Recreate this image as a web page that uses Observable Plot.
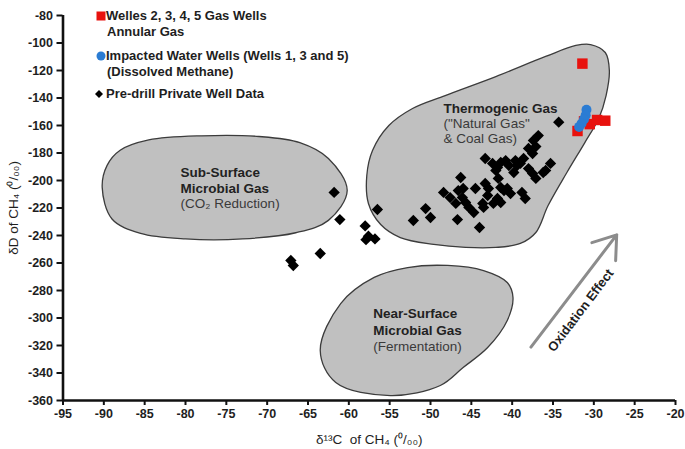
<!DOCTYPE html>
<html>
<head>
<meta charset="utf-8">
<script src="https://cdn.jsdelivr.net/npm/d3@7"></script>
<script src="https://cdn.jsdelivr.net/npm/@observablehq/plot@0.6"></script>
<style>
  html, body { margin: 0; padding: 0; background: #fff; }
  #wrap { position: relative; width: 685px; height: 449px; font-family: "Liberation Sans", Arial, sans-serif; }
  #wrap svg { font-family: "Liberation Sans", Arial, sans-serif; }
  [aria-label="x-axis tick label"] text, [aria-label="y-axis tick label"] text { font-weight: bold; }
  [aria-label="x-axis label"] text, [aria-label="y-axis label"] text { font-size: 13.5px; }
  .legend { position: absolute; left: 0; top: 0; font-size: 13px; font-weight: bold; color: #1e1e1e; }
  .legend div { position: absolute; white-space: nowrap; line-height: 16px; }
  .legend svg { position: absolute; }
</style>
</head>
<body>
<div id="wrap"></div>
<script>
// ---------- data (δ13C, δD) ----------
const preDrill = [
  [-61.8,-208.7],[-61.1,-228.4],[-58.0,-233.0],[-57.6,-240.5],[-56.8,-242.5],[-57.9,-243.0],[-56.5,-221.1],
  [-63.5,-253.1],[-67.1,-258.2],[-66.8,-261.8],
  [-52.1,-229.1],[-50.6,-220.4],[-50.0,-226.9],[-48.4,-208.7],[-47.6,-212.4],[-46.9,-216.7],[-46.7,-228.4],
  [-46.3,-197.8],[-46.6,-207.3],[-46.1,-212.4],[-45.7,-216.0],[-45.3,-219.6],[-44.7,-223.3],[-46.0,-205.8],
  [-44.5,-205.8],[-44.0,-234.2],[-43.3,-184.0],[-43.3,-202.2],[-42.9,-205.8],[-43.0,-210.9],[-43.6,-216.7],
  [-43.5,-219.6],[-42.4,-187.6],[-41.8,-190.5],[-42.0,-192.7],[-41.4,-186.9],[-40.8,-185.5],[-40.4,-189.1],
  [-41.7,-198.5],[-41.4,-205.1],[-41.0,-207.3],[-41.8,-213.1],[-41.4,-216.0],[-42.3,-216.7],[-40.6,-205.8],
  [-40.2,-209.5],[-39.8,-194.2],[-39.6,-185.5],[-39.4,-189.1],[-39.0,-187.6],[-38.6,-184.0],[-38.8,-208.7],
  [-38.4,-213.1],[-38.0,-191.3],[-37.5,-194.9],[-37.1,-198.5],[-38.0,-176.7],[-37.1,-175.3],[-37.5,-180.4],
  [-35.9,-192.7],[-35.3,-187.6],[-36.2,-194.2],[-36.8,-167.3],[-37.4,-170.9],[-34.3,-157.6]
];
const wellesGas = [[-31.4,-115.0],[-32.0,-164.0],[-30.5,-159.0],[-29.6,-156.0],[-28.6,-156.5],[-31.2,-157.0]];
const waterWells = [[-30.9,-148.5],[-31.0,-152.5],[-31.2,-155.5],[-31.5,-158.5],[-31.8,-161.0]];

// ---------- tick values ----------
const xTicks = [-95,-90,-85,-80,-75,-70,-65,-60,-55,-50,-45,-40,-35,-30,-25,-20];
const yTicks = [-80,-100,-120,-140,-160,-180,-200,-220,-240,-260,-280,-300,-320,-340,-360];

// ---------- genetic field outlines (δ13C, δD) ----------
const subSurfaceField = [[-88.0,-178.0],[-84.5,-170.5],[-78.0,-167.5],[-71.0,-168.0],[-66.0,-172.5],[-62.5,-184.0],
  [-60.2,-207.3],[-62.5,-229.0],[-66.5,-238.0],[-73.0,-242.5],[-80.0,-242.5],[-85.5,-238.5],[-89.0,-228.0],[-90.2,-205.0],[-89.6,-189.0]];
const nearSurfaceField = [[-63.5,-323.6],[-61.0,-289.5],[-56.9,-270.5],[-52.8,-263.3],[-47.9,-261.8],[-43.5,-265.5],
  [-40.6,-274.2],[-39.9,-285.1],[-40.6,-301.8],[-43.0,-321.5],[-46.0,-336.0],[-48.8,-349.1],[-54.9,-356.4],[-61.6,-346.9]];
const thermogenicField = [[-30.4,-101.1],[-28.6,-106.9],[-28.1,-120.0],[-28.5,-138.2],[-29.4,-154.9],[-31.1,-172.4],
  [-33.3,-194.2],[-35.6,-218.2],[-37.1,-237.8],[-39.0,-245.8],[-42.0,-248.7],[-45.7,-248.7],[-49.6,-246.5],
  [-53.7,-241.5],[-56.1,-232.0],[-57.6,-216.7],[-57.8,-196.4],[-57.1,-178.2],[-55.1,-160.0],[-52.2,-147.6],
  [-48.2,-138.2],[-42.0,-124.4],[-35.9,-109.8],[-32.2,-101.8]];

// ---------- annotations ----------
const fieldLabels = [
  {x:-80.6, y:-194.2, text:"Sub-Surface", bold:true},
  {x:-80.6, y:-205.8, text:"Microbial Gas", bold:true},
  {x:-80.6, y:-216.7, text:"(CO₂ Reduction)", bold:false},
  {x:-48.4, y:-147.6, text:"Thermogenic Gas", bold:true},
  {x:-48.4, y:-158.5, text:"(\"Natural Gas\"", bold:false},
  {x:-48.4, y:-169.5, text:"& Coal Gas)", bold:false},
  {x:-57.0, y:-296.7, text:"Near-Surface", bold:true},
  {x:-57.0, y:-309.1, text:"Microbial Gas", bold:true},
  {x:-57.0, y:-320.7, text:"(Fermentation)", bold:false}
];
const oxidationArrow = [{x1:-37.7, y1:-321.2, x2:-27.2, y2:-239.5}];
const oxidationLabel = [{x:-31.6, y:-294.5, text:"Oxidation Effect"}];

const fmt = d => `${d}`;
const field = pts => Plot.line(pts, {x: d => d[0], y: d => d[1], curve: "catmull-rom-closed",
  fill: "#c0c0c0", stroke: "#3c3c3c", strokeWidth: 1.3});

const chart = Plot.plot({
  width: 685, height: 449,
  marginLeft: 62.5, marginRight: 10, marginTop: 15, marginBottom: 49,
  style: {fontSize: "12.5px", color: "#1e1e1e", background: "#fff"},
  x: {domain: [-95, -20], label: null},
  y: {domain: [-360, -80], label: null},
  marks: [
    field(subSurfaceField),
    field(thermogenicField),
    field(nearSurfaceField),
    Plot.text(fieldLabels.filter(d => d.bold), {x:"x", y:"y", text:"text", textAnchor:"start", fontSize: 13.5, fontWeight:"bold", fill:"#222"}),
    Plot.text(fieldLabels.filter(d => !d.bold), {x:"x", y:"y", text:"text", textAnchor:"start", fontSize: 13.5, fill:"#3a3a3a"}),
    Plot.arrow(oxidationArrow, {x1:"x1", y1:"y1", x2:"x2", y2:"y2", stroke:"#8c8c8c", strokeWidth: 3, headLength: 13, headAngle: 70}),
    Plot.text(oxidationLabel, {x:"x", y:"y", text:"text", rotate: -52.8, fontSize: 13, fontWeight:"bold", fill:"#1e1e1e"}),
    Plot.dot(preDrill, {x: d => d[0], y: d => d[1], symbol: "diamond2", r: 5.1, fill: "#000", stroke: "none"}),
    Plot.dot(wellesGas, {x: d => d[0], y: d => d[1], symbol: "square", r: 5.9, fill: "#e8120e", stroke: "none"}),
    Plot.dot(waterWells, {x: d => d[0], y: d => d[1], symbol: "circle", r: 5, fill: "#2b7cd3", stroke: "none"}),
    Plot.ruleX([-95], {stroke: "#111", strokeWidth: 2.6}),
    Plot.ruleY([-360], {stroke: "#111", strokeWidth: 2.6}),
    Plot.axisX({ticks: xTicks, tickFormat: fmt, tickSize: 5, tickPadding: 4, strokeWidth: 2, stroke: "#111",
      label: "δ¹³C  of CH₄ (⁰/₀₀)", labelAnchor: "center", labelOffset: 43, labelArrow: "none"}),
    Plot.axisY({ticks: yTicks, tickFormat: fmt, tickSize: 6, tickPadding: 4, strokeWidth: 2, stroke: "#111",
      label: "δD of CH₄ (⁰/₀₀)", labelAnchor: "center", labelOffset: 55, labelArrow: "none"})
  ]
});

const wrap = document.getElementById("wrap");
wrap.appendChild(chart);

// ---------- legend ----------
const legendItems = [
  {symbol: "square", color: "#e8120e", lines: ["Welles 2, 3, 4, 5 Gas Wells", "Annular Gas"], cy: 16},
  {symbol: "circle", color: "#2b7cd3", lines: ["Impacted Water Wells (Wells 1, 3 and 5)", "(Dissolved Methane)"], cy: 56},
  {symbol: "diamond", color: "#000", lines: ["Pre-drill Private Well Data"], cy: 94}
];
const lg = document.createElement("div");
lg.className = "legend";
legendItems.forEach(item => {
  const s = document.createElementNS("http://www.w3.org/2000/svg", "svg");
  s.setAttribute("width", 12); s.setAttribute("height", 12);
  s.style.left = "95px"; s.style.top = (item.cy - 6) + "px";
  let shape;
  if (item.symbol === "square") {
    shape = `<rect x="1.5" y="1.5" width="9" height="9" fill="${item.color}"/>`;
  } else if (item.symbol === "circle") {
    shape = `<circle cx="6" cy="6" r="4.5" fill="${item.color}"/>`;
  } else {
    shape = `<path d="M4,2 L8,6 L4,10 L0,6 Z" fill="${item.color}"/>`;
  }
  s.innerHTML = shape;
  lg.appendChild(s);
  item.lines.forEach((t, i) => {
    const d = document.createElement("div");
    d.textContent = t;
    d.style.left = (i === 0 ? 106 : 107) + "px";
    d.style.top = (item.cy - 8 + i * 16) + "px";
    lg.appendChild(d);
  });
});
wrap.appendChild(lg);
</script>
</body>
</html>
